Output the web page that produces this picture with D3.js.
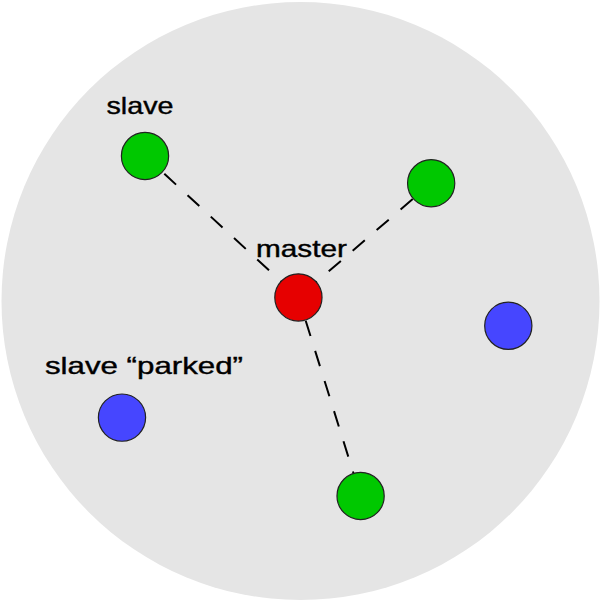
<!DOCTYPE html>
<html>
<head>
<meta charset="utf-8">
<script src="https://cdn.jsdelivr.net/npm/d3@7"></script>
<style>
  html, body { margin: 0; padding: 0; background: #fff; }
  svg { display: block; }
</style>
</head>
<body>
<div id="chart"></div>
<script>
// piconet, coordinates are in units of the cell radius (cell centre = 0,0)
const nodeNames = ["master", "slaveA", "slaveB", "slaveC", "parkedA", "parkedB"];
const nodeRoles = ["master", "slave", "slave", "slave", "parked", "parked"];
const nodeX = [-0.007, -0.520, 0.437, 0.201, 0.695, -0.597];
const nodeY = [-0.012, -0.485, -0.394, 0.652, 0.083, 0.390];

// master -> active slave links
const linkSource = ["master", "master", "master"];
const linkTarget = ["slaveA", "slaveB", "slaveC"];

// text labels and the node each one sits above
const labelText = ["slave", "master", "slave \u201cparked\u201d"];
const labelNode = ["slaveA", "master", "parkedB"];

const width = 602, height = 602;
const cx = 300.5, cy = 301, R = 299;

const x = d3.scaleLinear().domain([-1, 1]).range([cx - R, cx + R]);
const y = d3.scaleLinear().domain([-1, 1]).range([cy - R, cy + R]);
const r = d3.scaleLinear().domain([0, 1]).range([0, R]);

const color = d3.scaleOrdinal()
    .domain(["master", "slave", "parked"])
    .range(["#e60000", "#00c800", "#4646ff"]);

const nodes = nodeNames.map((n, i) => ({ name: n, role: nodeRoles[i], x: nodeX[i], y: nodeY[i] }));
const byName = new Map(nodes.map(d => [d.name, d]));
const links = linkSource.map((s, i) => ({ source: byName.get(s), target: byName.get(linkTarget[i]) }));

// dash phase per link (px), label offsets from their node (px)
const dashOffset = { slaveA: 23.2, slaveB: 23.2, slaveC: 7.2 };
const labelStyle = {
  slave:  { dx: -5, dy: -42.3, len: 67 },
  master: { dx: 3,  dy: -40.6, len: 91 },
  parked: { dx: 22, dy: -43.7, len: 198 }
};

const svg = d3.select("#chart").append("svg")
    .attr("width", width)
    .attr("height", height);

// the cell
svg.append("circle")
    .attr("cx", x(0))
    .attr("cy", y(0))
    .attr("r", r(1))
    .attr("fill", "#e5e5e5");

svg.append("g")
  .selectAll("line")
  .data(links)
  .join("line")
    .attr("x1", d => x(d.source.x))
    .attr("y1", d => y(d.source.y))
    .attr("x2", d => x(d.target.x))
    .attr("y2", d => y(d.target.y))
    .attr("stroke", "#000")
    .attr("stroke-width", 2)
    .attr("stroke-dasharray", "16 15.6")
    .attr("stroke-dashoffset", d => dashOffset[d.target.name]);

svg.append("g")
  .selectAll("circle")
  .data(nodes)
  .join("circle")
    .attr("cx", d => x(d.x))
    .attr("cy", d => y(d.y))
    .attr("r", r(0.079))
    .attr("fill", d => color(d.role))
    .attr("stroke", "#222")
    .attr("stroke-width", 1.2);

const labels = labelText.map((t, i) => ({ text: t, node: byName.get(labelNode[i]) }));

svg.append("g")
    .attr("font-family", "'Liberation Sans', Arial, sans-serif")
    .attr("font-size", 24)
    .attr("text-anchor", "middle")
  .selectAll("text")
  .data(labels)
  .join("text")
    .each(function(d) {
      const st = labelStyle[d.node.role];
      d3.select(this)
        .attr("x", x(d.node.x) + st.dx)
        .attr("y", y(d.node.y) + st.dy)
        .attr("textLength", st.len)
        .attr("lengthAdjust", "spacingAndGlyphs");
    })
    .attr("fill", "#000")
    .attr("stroke", "#000")
    .attr("stroke-width", 0.4)
    .text(d => d.text);
</script>
</body>
</html>
